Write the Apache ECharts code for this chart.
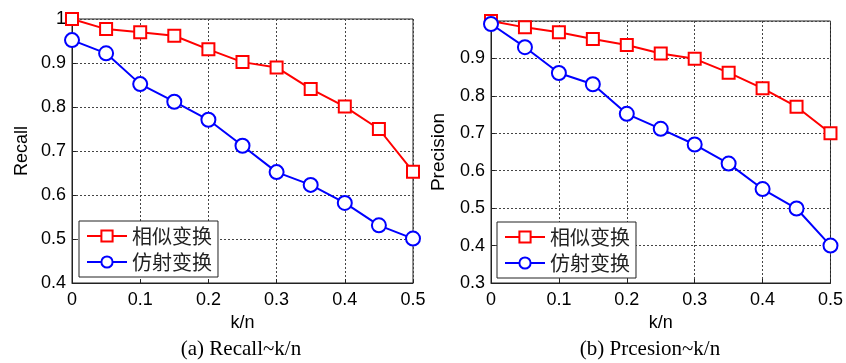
<!DOCTYPE html>
<html><head><meta charset="utf-8">
<script src="https://cdn.jsdelivr.net/npm/echarts@6/dist/echarts.min.js"></script>
<style>html,body{margin:0;padding:0;background:#fff}#c{width:846px;height:363px}</style>
</head><body><div id="c"></div>
<script>
const kn = [0, 0.05, 0.1, 0.15, 0.2, 0.25, 0.3, 0.35, 0.4, 0.45, 0.5];
const recallSimilarity = [1.0, 0.977, 0.97, 0.962, 0.931, 0.902, 0.89, 0.841, 0.801, 0.75, 0.653];
const recallAffine = [0.952, 0.922, 0.852, 0.812, 0.771, 0.712, 0.652, 0.623, 0.582, 0.531, 0.501];
const precisionSimilarity = [1.0, 0.983, 0.97, 0.952, 0.936, 0.913, 0.899, 0.862, 0.82, 0.771, 0.70];
const precisionAffine = [0.992, 0.93, 0.861, 0.831, 0.752, 0.712, 0.67, 0.619, 0.551, 0.499, 0.40];
const seriesNames = ['相似变换', '仿射变换'];
const captions = ['(a) Recall~k/n', '(b) Prcesion~k/n'];
const yNames = ['Recall', 'Precision'];

const pairs = ys => kn.map((x, i) => [x, ys[i]]);
const sans = '"Liberation Sans", Arial, sans-serif';
const cjk = '"Noto Sans CJK SC", sans-serif';

const grids = [
  {left: 72, top: 19, width: 341, height: 264},
  {left: 491, top: 21, width: 341, height: 262}
];
function xAxis(i) {
  return {
    type: 'value', gridIndex: i, min: 0, max: 0.5, interval: 0.1,
    name: 'k/n', nameLocation: 'middle', nameGap: 30,
    nameTextStyle: {fontFamily: sans, fontSize: 18, color: '#000'},
    axisLine: {lineStyle: {color: '#222', width: 1}},
    axisTick: {inside: true, length: 4, lineStyle: {color: '#222'}},
    axisLabel: {fontFamily: sans, fontSize: 18, color: '#000', margin: 8,
      formatter: v => String(+v.toFixed(1))},
    splitLine: {show: true, lineStyle: {color: '#444', type: [2, 2], width: 1}}
  };
}
function yAxis(i, min) {
  return {
    type: 'value', gridIndex: i, min: min, max: 1, interval: 0.1,
    name: yNames[i], nameLocation: 'middle', nameGap: i === 0 ? 41 : 43, nameRotate: 90,
    nameTextStyle: {fontFamily: sans, fontSize: i === 0 ? 18 : 19, color: '#000'},
    axisLine: {lineStyle: {color: '#222', width: 1}},
    axisTick: {inside: true, length: 4, lineStyle: {color: '#222'}},
    axisLabel: {fontFamily: sans, fontSize: 18, color: '#000', margin: 6,
      formatter: v => (i === 1 && v > 0.95) ? '' : String(+v.toFixed(1))},
    splitLine: {show: true, lineStyle: {color: '#444', type: [2, 2], width: 1}}
  };
}
function line(name, data, i, color, symbol) {
  return {
    name: name, type: 'line', xAxisIndex: i, yAxisIndex: i, data: pairs(data),
    symbol: symbol, symbolSize: symbol === 'rect' ? 12 : 14,
    showAllSymbol: true,
    lineStyle: {color: color, width: 2},
    itemStyle: {color: '#fff', borderColor: color, borderWidth: 2},
    emphasis: {disabled: true}, z: 3
  };
}
function legend(left, top) {
  return {
    show: true, orient: 'vertical', left: left, top: top,
    backgroundColor: '#fff', borderColor: '#222', borderWidth: 1,
    padding: [5, 6, 5, 7], itemGap: 6, itemWidth: 40, itemHeight: 14,
    textStyle: {fontFamily: cjk, fontSize: 20, color: '#222', lineHeight: 20},
    data: seriesNames.map(n => ({name: n})),
    selectedMode: false
  };
}
const chart = echarts.init(document.getElementById('c'), null, {renderer: 'canvas'});
chart.setOption({
  animation: false,
  grid: grids.map(g => Object.assign({show: true, borderColor: '#222', borderWidth: 1, backgroundColor: '#fff'}, g)),
  xAxis: [xAxis(0), xAxis(1)],
  yAxis: [yAxis(0, 0.4), yAxis(1, 0.3)],
  legend: [legend(79, 221), legend(497, 222)],
  series: [
    line(seriesNames[0], recallSimilarity, 0, '#ff0000', 'rect'),
    line(seriesNames[1], recallAffine, 0, '#0000ff', 'circle'),
    line(seriesNames[0], precisionSimilarity, 1, '#ff0000', 'rect'),
    line(seriesNames[1], precisionAffine, 1, '#0000ff', 'circle')
  ],
  graphic: [
    {type: 'text', x: 241, y: 349, style: {text: captions[0], align: 'center', verticalAlign: 'middle', font: '21px "Liberation Serif", "Times New Roman", serif', fill: '#000'}},
    {type: 'text', x: 650, y: 349, style: {text: captions[1], align: 'center', verticalAlign: 'middle', font: '21px "Liberation Serif", "Times New Roman", serif', fill: '#000'}}
  ]
});
</script></body></html>
